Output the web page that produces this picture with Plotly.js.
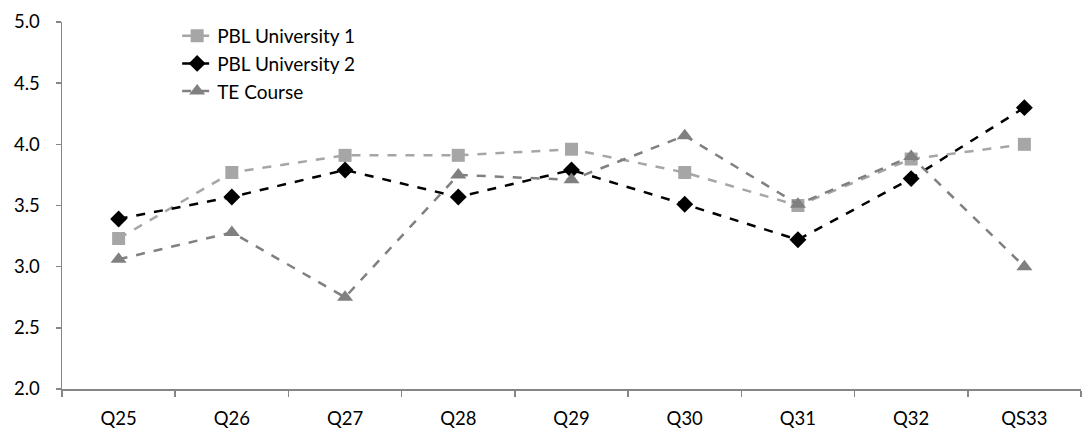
<!DOCTYPE html>
<html>
<head>
<meta charset="utf-8">
<script src="https://cdn.plot.ly/plotly-3.0.1.min.js"></script>
<style>html,body{margin:0;padding:0;background:#fff;}#chart{width:1082px;height:432px;}</style>
</head>
<body>
<div id="chart"></div>
<script>
const categories = ["Q25","Q26","Q27","Q28","Q29","Q30","Q31","Q32","QS33"];
const pblUniversity1 = [3.23, 3.77, 3.91, 3.91, 3.96, 3.77, 3.50, 3.88, 4.00];
const pblUniversity2 = [3.39, 3.57, 3.79, 3.57, 3.79, 3.51, 3.22, 3.72, 4.30];
const teCourse = [3.06, 3.28, 2.75, 3.75, 3.71, 4.07, 3.51, 3.90, 3.00];
const seriesNames = ["PBL University 1", "PBL University 2", "TE Course"];

const font = "Lato, 'Open Sans', sans-serif";
const traces = [
  {x: categories, y: pblUniversity1, name: seriesNames[0], type: "scatter", mode: "lines+markers",
   line: {color: "#a6a6a6", width: 2.5, dash: "dash"},
   marker: {symbol: "square", size: 13, color: "#a6a6a6"}},
  {x: categories, y: pblUniversity2, name: seriesNames[1], type: "scatter", mode: "lines+markers",
   line: {color: "#000000", width: 2.5, dash: "dash"},
   marker: {symbol: "diamond", size: 13, color: "#000000"}},
  {x: categories, y: teCourse, name: seriesNames[2], type: "scatter", mode: "lines+markers",
   line: {color: "#808080", width: 2.5, dash: "dash"},
   marker: {symbol: "triangle-up", size: 14, color: "#808080"}}
];

const layout = {
  width: 1082, height: 432,
  margin: {l: 62, r: 1, t: 22, b: 43},
  paper_bgcolor: "#fff", plot_bgcolor: "#fff",
  font: {family: font, size: 18, color: "#000"},
  showlegend: true,
  legend: {x: 0.113, y: 1.014, xanchor: "left", yanchor: "top",
           bgcolor: "rgba(0,0,0,0)", font: {family: font, size: 19, color: "#000"}},
  xaxis: {type: "category", range: [-0.5, 8.5], showgrid: false, zeroline: false,
          showline: true, linecolor: "#868686", linewidth: 1.5,
          ticks: "outside", tickson: "boundaries", ticklen: 6, tickcolor: "#868686", tickwidth: 1.5,
          ticklabelstandoff: 12, tickfont: {family: font, size: 18.5, color: "#000"}},
  yaxis: {range: [2, 5], dtick: 0.5, tickformat: ".1f", showgrid: false, zeroline: false,
          showline: true, linecolor: "#868686", linewidth: 1.5,
          ticks: "outside", ticklen: 5, tickcolor: "#868686", tickwidth: 1.5,
          ticklabelstandoff: 12, tickfont: {family: font, size: 18.5, color: "#000"}}
};

Plotly.newPlot("chart", traces, layout, {displayModeBar: false, staticPlot: true});
</script>
</body>
</html>
